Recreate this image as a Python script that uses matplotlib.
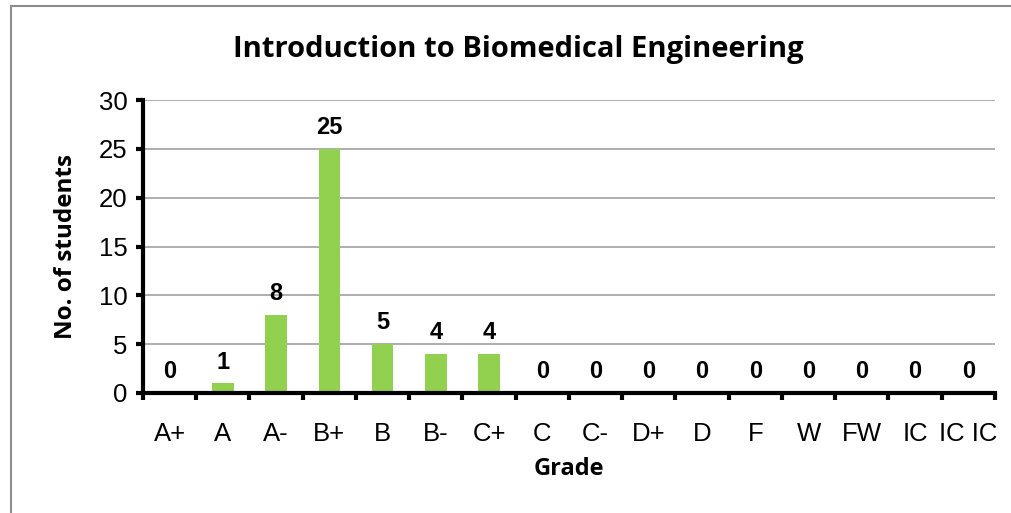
import numpy as np
import matplotlib.pyplot as plt
from matplotlib.lines import Line2D

grades = ['A+', 'A', 'A-', 'B+', 'B', 'B-', 'C+', 'C', 'C-', 'D+', 'D', 'F', 'W', 'FW', 'IC', 'IC IC']
students = [0, 1, 8, 25, 5, 4, 4, 0, 0, 0, 0, 0, 0, 0, 0, 0]
yticks = [0, 5, 10, 15, 20, 25, 30]

fig = plt.figure(figsize=(10.12, 5.13), dpi=100)
ax = fig.add_axes([143/1012, 1-393/513, (995-143)/1012, (393-100)/513])

x = np.arange(len(grades))
ax.bar(x, students, width=0.4, color='#92D050', zorder=3)

# value labels
for xi, v in zip(x, students):
    ax.annotate(str(v), (xi, v), xytext=(0, 7), textcoords='offset points',
                ha='center', va='bottom', fontsize=17, fontweight='bold',
                family='Liberation Sans')

ax.set_xlim(-0.5, len(grades) - 0.5)
ax.set_ylim(0, 30)
ax.set_yticks(yticks)
ax.yaxis.grid(True, color='#a0a0a0', linewidth=1.2, zorder=0)

ax.set_xticks(x)
ax.set_xticklabels(grades, family='Liberation Sans', fontsize=18.5)
ax.set_xticks(np.arange(len(grades) + 1) - 0.5, minor=True)
ax.tick_params(axis='x', which='major', length=0, pad=21)
ax.tick_params(axis='x', which='minor', length=5, width=3, direction='out')
ax.tick_params(axis='y', length=5, width=3, direction='out', pad=6, labelsize=18.5)
for lab in ax.get_yticklabels():
    lab.set_family('Liberation Sans')

for s in ['top', 'right']:
    ax.spines[s].set_visible(False)
for s in ['left', 'bottom']:
    ax.spines[s].set_linewidth(3)
    ax.spines[s].set_zorder(4)

ax.set_xlabel('Grade', fontsize=17, fontweight='bold', family='Open Sans', labelpad=8)
ax.set_ylabel('No. of students', fontsize=17.5, fontweight='bold', family='Open Sans', labelpad=15)
fig.text(518/1012, 1-50/513, 'Introduction to Biomedical Engineering', ha='center', va='center',
         fontsize=21, fontweight='bold', family='Open Sans')

# chart area border (left and top visible)
fig.add_artist(Line2D([10.5/1012, 10.5/1012], [0, 1-5.5/513], color='#8c8c8c', linewidth=1.5))
fig.add_artist(Line2D([10.5/1012, 1], [1-5.5/513, 1-5.5/513], color='#8c8c8c', linewidth=1.5))

fig.savefig('out.png', dpi=100)
